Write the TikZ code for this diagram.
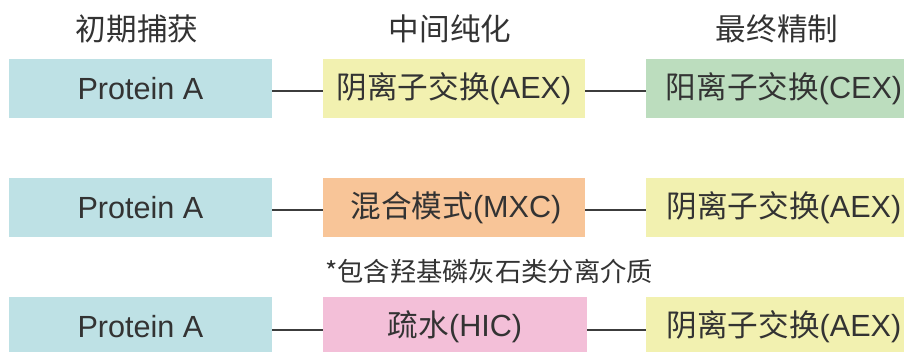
\documentclass[tikz,border=0pt]{standalone}
\usepackage{fontspec}
\setmainfont{Liberation Sans}
\newfontfamily\cjk{Noto Sans CJK SC}
\definecolor{txt}{HTML}{333333}
\definecolor{cblue}{HTML}{BEE1E5}
\definecolor{cyellow}{HTML}{F2F1B0}
\definecolor{cgreen}{HTML}{BCDDBE}
\definecolor{corange}{HTML}{F8C598}
\definecolor{cpink}{HTML}{F3BFD8}
\definecolor{cline}{HTML}{3C3C3C}
\begin{document}
\begin{tikzpicture}[x=1pt,y=-1pt,
  box/.style={rectangle,inner sep=0pt,minimum height=59pt,text=txt,
    font=\fontsize{30.6}{36}\selectfont},
  hdr/.style={inner sep=0pt,text=txt,font=\cjk\fontsize{30.6}{36}\selectfont},
  note/.style={inner sep=0pt,text=txt,font=\cjk\fontsize{26.3}{30}\selectfont},
  conn/.style={draw=cline,line width=2pt}]
\useasboundingbox (0,0) rectangle (904,351);
% headers
\node[hdr] (h1) at (137,29) {初期捕获};
\node[hdr] (h2) at (450,29) {中间纯化};
\node[hdr] (h3) at (777,29) {最终精制};
% row 1
\node[box,fill=cblue,minimum width=263pt] (p1) at (140.5,88.5) {Protein A};
\node[box,fill=cyellow,minimum width=262pt] (m1) at (454,88.5) {{\cjk 阴离子交换}(AEX)};
\node[box,fill=cgreen,minimum width=276pt] (r1) at (784,88.5) {{\cjk 阳离子交换}(CEX)};
% row 2
\node[box,fill=cblue,minimum width=263pt] (p2) at (140.5,207.5) {Protein A};
\node[box,fill=corange,minimum width=262pt] (m2) at (454,207.5) {\hspace*{4pt}{\cjk 混合模式}(MXC)};
\node[box,fill=cyellow,minimum width=276pt] (r2) at (784,207.5) {{\cjk 阴离子交换}(AEX)};
% note
\node[note,anchor=west] (n) at (325,272) {*包含羟基磷灰石类分离介质};
% row 3
\node[box,fill=cblue,minimum width=263pt] (p3) at (140.5,326.5) {Protein A};
\node[box,fill=cpink,minimum width=264pt] (m3) at (455,326.5) {{\cjk 疏水}(HIC)};
\node[box,fill=cyellow,minimum width=276pt] (r3) at (784,326.5) {{\cjk 阴离子交换}(AEX)};
% connectors
\draw[conn] ([yshift=-2.5pt]p1.east) -- ([yshift=-2.5pt]m1.west);
\draw[conn] ([yshift=-2.5pt]m1.east) -- ([yshift=-2.5pt]r1.west);
\draw[conn] ([yshift=-2.5pt]p2.east) -- ([yshift=-2.5pt]m2.west);
\draw[conn] ([yshift=-2.5pt]m2.east) -- ([yshift=-2.5pt]r2.west);
\draw[conn] ([yshift=-3.5pt]p3.east) -- ([yshift=-3.5pt]m3.west);
\draw[conn] ([yshift=-3.5pt]m3.east) -- ([yshift=-3.5pt]r3.west);
\end{tikzpicture}
\end{document}
